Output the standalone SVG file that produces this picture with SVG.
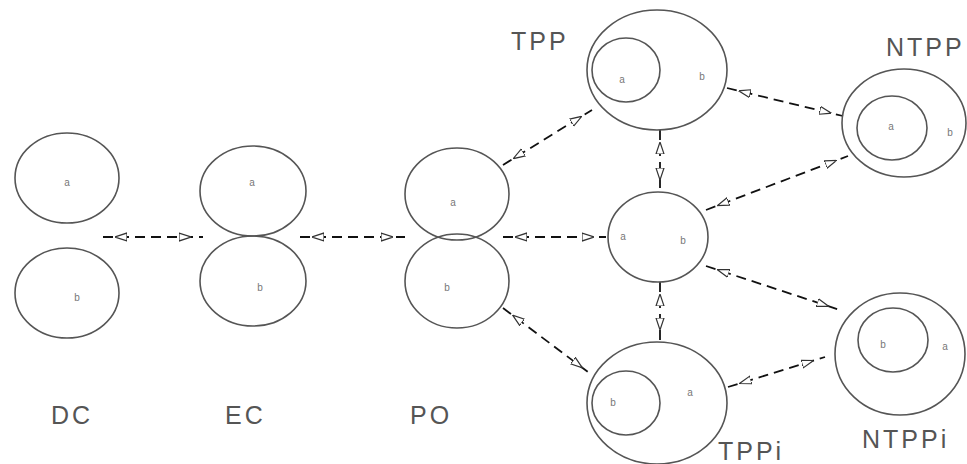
<svg xmlns="http://www.w3.org/2000/svg" width="967" height="464" viewBox="0 0 967 464">
<style>
.c{fill:none;stroke:#555;stroke-width:1.6}
.k{stroke:#111;stroke-width:1.8;stroke-dasharray:10 6;fill:none}
.h{fill:none;stroke:none;marker-start:url(#ah);marker-end:url(#ah)}
.s{font-family:"Liberation Sans",Arial,sans-serif;font-size:10px;fill:#777;text-anchor:middle}
.t{font-family:"Liberation Sans",Arial,sans-serif;font-size:25px;fill:#555;letter-spacing:3px}
</style>
<defs>
<marker id="ah" viewBox="0 0 12 10" refX="12" refY="5" markerWidth="12" markerHeight="10" orient="auto-start-reverse" markerUnits="userSpaceOnUse">
<path d="M0,1 L12,5 L0,9 Z" fill="#fff" stroke="#333" stroke-width="1.2"/>
</marker>
</defs>
<rect width="967" height="464" fill="#fff"/>
<g id="connectors">
<line class="k" x1="103" y1="237" x2="203" y2="237"/><path class="h" d="M115,237 L191,237"/>
<line class="k" x1="300" y1="237" x2="405" y2="237"/><path class="h" d="M312,237 L393,237"/>
<line class="k" x1="503" y1="237" x2="606" y2="237"/><path class="h" d="M515,237 L594,237"/>
<line class="k" x1="503" y1="165" x2="592" y2="110"/><path class="h" d="M513.2,158.7 L581.8,116.3"/>
<line class="k" x1="503" y1="308" x2="592" y2="375"/><path class="h" d="M512.6,315.2 L582.4,367.8"/>
<line class="k" x1="660" y1="130" x2="660" y2="192"/><path class="h" d="M660,142 L660,180"/>
<line class="k" x1="660" y1="282" x2="660" y2="342"/><path class="h" d="M660,294 L660,330"/>
<line class="k" x1="727" y1="88" x2="843" y2="116"/><path class="h" d="M738.6,90.8 L831.4,113.2"/>
<line class="k" x1="706" y1="210" x2="848" y2="156"/><path class="h" d="M717.2,205.7 L836.8,160.3"/>
<line class="k" x1="706" y1="266" x2="840" y2="310"/><path class="h" d="M717.4,269.7 L828.6,306.3"/>
<line class="k" x1="728" y1="387" x2="825" y2="357"/><path class="h" d="M739.5,383.5 L813.5,360.5"/>
</g>
<g id="DC">
<ellipse class="c" cx="67" cy="178" rx="52" ry="45"/>
<ellipse class="c" cx="67" cy="293" rx="52" ry="45"/>
<text class="s" x="67" y="186">a</text>
<text class="s" x="77" y="301">b</text>
<text class="t" x="51" y="424">DC</text>
</g>
<g id="EC">
<ellipse class="c" cx="253" cy="191" rx="53" ry="45"/>
<ellipse class="c" cx="253" cy="281" rx="53" ry="45"/>
<text class="s" x="252" y="186">a</text>
<text class="s" x="260" y="291">b</text>
<text class="t" x="225" y="424">EC</text>
</g>
<g id="PO">
<ellipse class="c" cx="457" cy="194" rx="52" ry="46"/>
<ellipse class="c" cx="457" cy="281" rx="52" ry="47"/>
<text class="s" x="453" y="206">a</text>
<text class="s" x="447" y="291">b</text>
<text class="t" x="410" y="424">PO</text>
</g>
<g id="EQ">
<ellipse class="c" cx="658" cy="237" rx="50" ry="45"/>
<text class="s" x="623" y="240">a</text>
<text class="s" x="683" y="244">b</text>
</g>
<g id="TPP">
<ellipse class="c" cx="657" cy="70" rx="70" ry="60"/>
<ellipse class="c" cx="626" cy="70" rx="34" ry="32"/>
<text class="s" x="622" y="83">a</text>
<text class="s" x="702" y="80">b</text>
<text class="t" x="511" y="50">TPP</text>
</g>
<g id="NTPP">
<ellipse class="c" cx="904" cy="123" rx="62" ry="54"/>
<ellipse class="c" cx="892" cy="128" rx="35" ry="32"/>
<text class="s" x="891" y="130">a</text>
<text class="s" x="950" y="136">b</text>
<text class="t" x="886" y="56">NTPP</text>
</g>
<g id="TPPi">
<ellipse class="c" cx="657" cy="403" rx="70" ry="61"/>
<ellipse class="c" cx="626" cy="403" rx="34" ry="32"/>
<text class="s" x="613" y="406">b</text>
<text class="s" x="690" y="396">a</text>
<text class="t" x="718" y="460">TPPi</text>
</g>
<g id="NTPPi">
<ellipse class="c" cx="900" cy="354" rx="65" ry="61"/>
<ellipse class="c" cx="893" cy="340" rx="35" ry="32"/>
<text class="s" x="883" y="348">b</text>
<text class="s" x="945" y="350">a</text>
<text class="t" x="862" y="448">NTPPi</text>
</g>
</svg>
